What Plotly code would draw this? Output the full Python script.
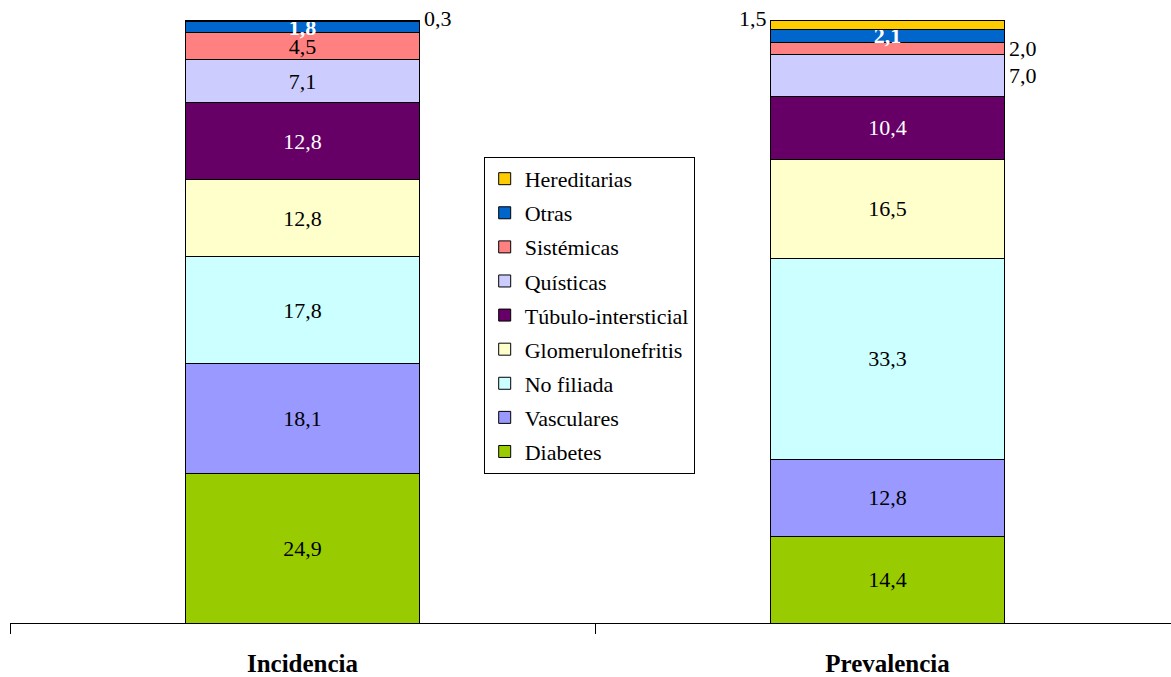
import plotly.graph_objects as go

# categorías y series (porcentajes)
categorias = ['Incidencia', 'Prevalencia']
series = ['Diabetes', 'Vasculares', 'No filiada', 'Glomerulonefritis', 'Túbulo-intersticial',
          'Quísticas', 'Sistémicas', 'Otras', 'Hereditarias']
valores = {
    'Diabetes':            [24.9, 14.4],
    'Vasculares':          [18.1, 12.8],
    'No filiada':          [17.8, 33.3],
    'Glomerulonefritis':   [12.8, 16.5],
    'Túbulo-intersticial': [12.8, 10.4],
    'Quísticas':           [7.1, 7.0],
    'Sistémicas':          [4.5, 2.0],
    'Otras':               [1.8, 2.1],
    'Hereditarias':        [0.3, 1.5],
}
colores = {
    'Diabetes': '#99CC00', 'Vasculares': '#9999FF', 'No filiada': '#CCFFFF',
    'Glomerulonefritis': '#FFFFCC', 'Túbulo-intersticial': '#660066', 'Quísticas': '#CCCCFF',
    'Sistémicas': '#FF8080', 'Otras': '#0066CC', 'Hereditarias': '#FFCC00',
}
# etiquetas que van fuera de la barra: (serie, índice categoría, lado)
fuera = [('Hereditarias', 0, 'right'), ('Hereditarias', 1, 'left'),
         ('Sistémicas', 1, 'right'), ('Quísticas', 1, 'right')]

FONT = "Times New Roman, Liberation Serif, DejaVu Serif, serif"
xs = list(range(len(categorias)))
fmt = lambda v: f"{v:.1f}".replace('.', ',')

fig = go.Figure()
for n, s in enumerate(series):
    txt = [fmt(v) for v in valores[s]]
    for (fs, i, _) in fuera:
        if fs == s:
            txt[i] = ''
    tcolor = 'white' if s in ('Túbulo-intersticial', 'Otras') else 'black'
    fig.add_trace(go.Bar(
        x=xs, y=valores[s], name=s, width=0.4,
        marker=dict(color=colores[s], line=dict(color='black', width=1)),
        text=txt, textposition='inside', insidetextanchor='middle', constraintext='none',
        insidetextfont=dict(family=FONT, size=22, color=tcolor,
                            weight='bold' if s == 'Otras' else 'normal'),
        legendgroup=s, legendrank=100 - n, hoverinfo='skip'))

# anotaciones externas a partir de las sumas acumuladas
for (s, i, lado) in fuera:
    idx = series.index(s)
    base = sum(valores[series[k]][i] for k in range(idx))
    v = valores[s][i]
    ymid = base + v / 2 if s != 'Hereditarias' else base + v
    fig.add_annotation(x=xs[i] + (0.2 if lado == 'right' else -0.2), y=ymid,
                       text=fmt(v), showarrow=False,
                       xanchor='left' if lado == 'right' else 'right', yanchor='middle',
                       xshift=2 if lado == 'right' else -2, yshift=2 if s == 'Hereditarias' else 0,
                       font=dict(family=FONT, size=22, color='black'))

fig.update_layout(
    barmode='stack', width=1171, height=677,
    paper_bgcolor='white', plot_bgcolor='white',
    margin=dict(l=10, r=0, t=20, b=54),
    font=dict(family=FONT, color='black'),
    showlegend=True,
    legend=dict(x=0.408, y=0.773, xanchor='left', yanchor='top',
                bordercolor='black', borderwidth=1, bgcolor='white',
                font=dict(family=FONT, size=22, color='black'),
                traceorder='grouped', tracegroupgap=2.5, itemwidth=30),
)
fig.update_xaxes(range=[-0.5, 1.4846], showline=True, linecolor='black', linewidth=1,
                 tickvals=xs, ticktext=categorias, ticks='outside', ticklen=18,
                 tickcolor='rgba(0,0,0,0)', showgrid=False, zeroline=False,
                 tickfont=dict(family=FONT, size=25, color='black', weight='bold'),
                 minor=dict(ticks='outside', tick0=0.5, dtick=1, ticklen=10, tickcolor='black', showgrid=False),
                 automargin=False, fixedrange=True)
fig.update_yaxes(range=[0, 100.1], visible=False, showgrid=False, automargin=False)

fig.write_html("out.html", config={'displayModeBar': False},
               post_script="document.body.style.margin='0';document.body.style.overflow='hidden';")
